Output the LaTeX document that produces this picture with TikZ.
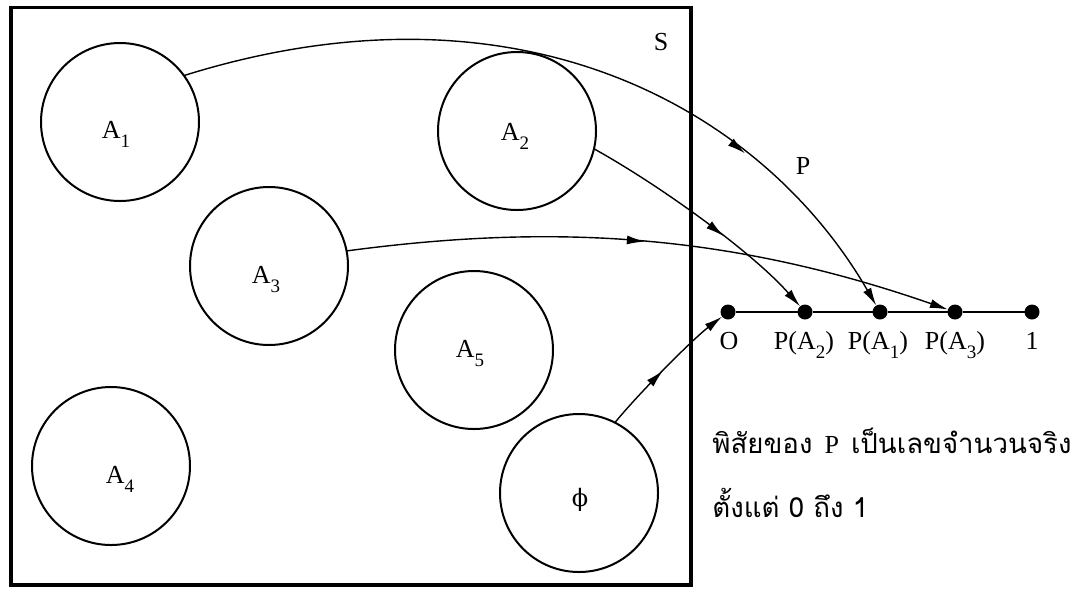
\documentclass[tikz,border=0pt]{standalone}
\usepackage{fontspec}
\setmainfont{Liberation Serif}
\newfontfamily\thaifont[Script=Thai]{Loma}
\newfontfamily\dvserif{DejaVu Serif}
\usetikzlibrary{arrows.meta,decorations.markings}
\newcommand\sbs[1]{\raisebox{-4.5pt}{\fontsize{9.5}{9.5}\selectfont #1}}
\begin{document}
\begin{tikzpicture}[x=0.5pt,y=-0.5pt,
  >={Latex[length=9pt,width=4.5pt]},
  setc/.style={circle,draw,line width=1pt,minimum size=79pt,inner sep=0pt,outer sep=0pt},
  dotn/.style={circle,fill,minimum size=7.5pt,inner sep=0pt,outer sep=0pt},
  lbl/.style={font=\fontsize{13}{13}\selectfont,inner sep=0pt},
  thl/.style={font=\fontsize{13.8}{13.8}\selectfont\thaifont,inner sep=0pt,anchor=base west},
  conn/.style={line width=0.7pt,->},
  midarr/.style={postaction={decorate},decoration={markings,mark=at position #1 with {\arrow{>}}}}
]
\useasboundingbox (0,0) rectangle (1074,590);
% frame S
\draw[line width=1.9pt] (11,7.5) rectangle (691,585);
\node[lbl] (S) at (661,42) {S};
% circles
\node[setc] (a1) at (120,122) {};
\node[setc] (a2) at (517,131) {};
\node[setc] (a3) at (269,266) {};
\node[setc] (a4) at (111,466) {};
\node[setc] (a5) at (474,350) {};
\node[setc] (ph) at (579,493) {};
\node[lbl,anchor=base] (la1) at (116,138) {A\sbs{1}};
\node[lbl,anchor=base] (la2) at (515,140) {A\sbs{2}};
\node[lbl,anchor=base] (la3) at (266,283) {A\sbs{3}};
\node[lbl,anchor=base] (la4) at (120,483) {A\sbs{4}};
\node[lbl,anchor=base] (la5) at (470,357) {A\sbs{5}};
\node[lbl,font=\fontsize{12}{12}\selectfont\dvserif] (lph) at (580,500) {ϕ};
% number line
\node[dotn] (d0) at (728,312) {};
\node[dotn] (d2) at (805,312) {};
\node[dotn] (d1) at (880,312) {};
\node[dotn] (d3) at (955,312) {};
\node[dotn] (d4) at (1032,312) {};
\draw[line width=1.3pt] (d0) -- (d2) -- (d1) -- (d3) -- (d4);
\node[lbl,anchor=base] (l0) at (729,349) {O};
\node[lbl,anchor=base] (l2) at (804,349) {P(A\sbs{2})};
\node[lbl,anchor=base] (l1) at (878,349) {P(A\sbs{1})};
\node[lbl,anchor=base] (l3) at (955,349) {P(A\sbs{3})};
\node[lbl,anchor=base] (l4) at (1032,349) {1};
% mapping arrows
\draw[conn,midarr=0.745] (a1.36) .. controls (515,-28) and (760,105) .. (d1);
\draw[conn,midarr=0.6] (a2.-13) .. controls (666,189) and (755,255) .. (d2);
\draw[conn,midarr=0.49] (a3.11) .. controls (548,224) and (725,232) .. (d3);
\draw[conn,midarr=0.47] (ph.63) .. controls (640,392) and (693,339) .. (d0);
\node[lbl] (P) at (803,166) {P};
% Thai text
\node[thl] (t1) at (712,453) {พิสัยของ\hspace{6pt}{\rmfamily\fontsize{13}{13}\selectfont P}\hspace{6pt}เป็นเลขจำนวนจริง};
\node[thl] (t2) at (712,517) {ตั้งแต่ 0 ถึง 1};
\end{tikzpicture}
\end{document}
